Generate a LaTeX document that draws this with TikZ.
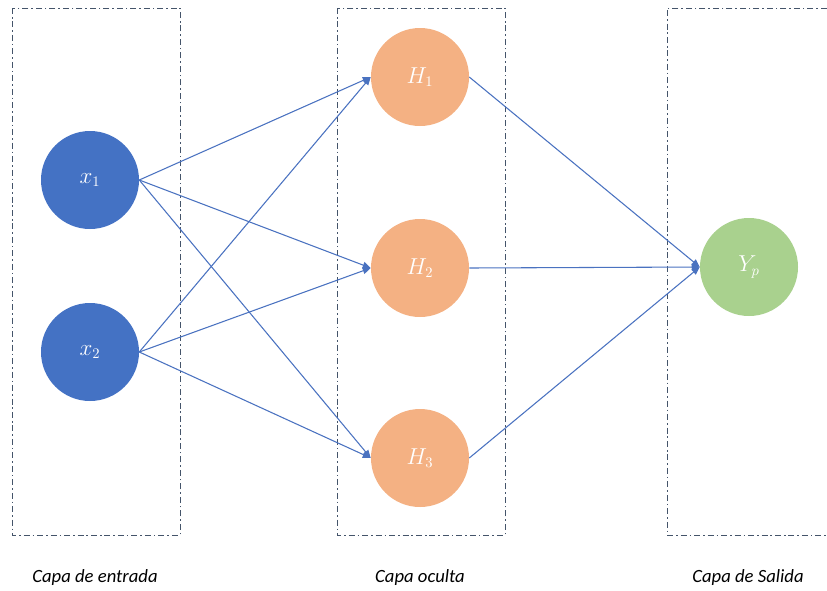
\documentclass[tikz,border=0pt]{standalone}
\usepackage{fontspec}
\setmainfont{Carlito}
\usetikzlibrary{arrows.meta}
\definecolor{inblue}{HTML}{4472C4}
\definecolor{hidorange}{HTML}{F4B183}
\definecolor{outgreen}{HTML}{A9D18E}
\definecolor{edgeblue}{HTML}{4A72C0}
\definecolor{boxgray}{HTML}{44546A}
\tikzset{
  neuron/.style={circle, draw=none, minimum size=73.5pt, inner sep=0pt, text=white, font=\fontsize{16}{18}\selectfont},
  inneuron/.style={neuron, fill=inblue},
  hidneuron/.style={neuron, fill=hidorange},
  outneuron/.style={neuron, fill=outgreen},
  conn/.style={draw=edgeblue, line width=0.8pt, -{Triangle[length=6pt,width=5pt]}},
  layerbox/.style={draw=boxgray, line width=0.6pt, dash pattern=on 4.5pt off 2.2pt on 1.2pt off 2.2pt},
  layerlabel/.style={font=\fontsize{14}{16}\selectfont\itshape, text=black}
}
\begin{document}
\begin{tikzpicture}[x=0.75pt, y=-0.75pt]
\useasboundingbox (0,0) rectangle (827,590);
% layer boxes
\draw[layerbox] (12,8) rectangle (180,535);
\draw[layerbox] (337,8) rectangle (505,535);
\draw[layerbox] (840,8) -- (667,8) -- (667,535) -- (840,535);
% neurons
\node[inneuron] (x1) at (90,180) {$x_1$};
\node[inneuron] (x2) at (90,352) {$x_2$};
\node[hidneuron] (h1) at (420,77) {$H_1$};
\node[hidneuron] (h2) at (420,268) {$H_2$};
\node[hidneuron] (h3) at (420,458) {$H_3$};
\node[outneuron] (yp) at (749,267) {$Y_p$};
% connections
\foreach \s in {x1,x2}{
  \foreach \t in {h1,h2,h3}{
    \draw[conn] (\s.east) -- (\t.west);
  }
}
\foreach \s in {h1,h2,h3}{
  \draw[conn] (\s.east) -- (yp.west);
}
% labels
\node[layerlabel] (l1) at (95,578) {Capa de entrada};
\node[layerlabel] (l2) at (420,578) {Capa oculta};
\node[layerlabel] (l3) at (748,578) {Capa de Salida};
\end{tikzpicture}
\end{document}
